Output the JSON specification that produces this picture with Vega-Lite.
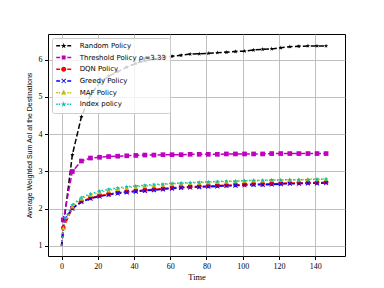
{
  "$schema": "https://vega.github.io/schema/vega-lite/v6.json",
  "width": 297,
  "height": 222,
  "autosize": "none",
  "padding": {"left": 48, "top": 34, "right": 39, "bottom": 32},
  "background": "white",
  "config": {
    "view": {"stroke": "black", "strokeWidth": 1},
    "axis": {"grid": true, "gridColor": "#b0b0b0", "gridWidth": 0.8, "domain": false, "tickColor": "black", "tickSize": 3.5, "labelFont": "Liberation Serif", "labelFontSize": 8, "labelColor": "black", "titleFont": "Liberation Serif", "titleFontSize": 8.4, "titleFontWeight": "normal", "titleColor": "black", "labelPadding": 2.5},
    "legend": {
      "orient": "top-left", "offset": 4, "padding": 4,
      "fillColor": "rgba(255,255,255,0.8)", "strokeColor": "#cccccc", "cornerRadius": 2,
      "labelFont": "DejaVu Sans", "labelFontSize": 7, "labelColor": "black",
      "rowPadding": 2.7, "clipHeight": 7.7, "symbolSize": 36, "symbolOffset": 4.2, "labelOffset": 12.5, "labelLimit": 200, "symbolStrokeWidth": 0
    }
  },
  "datasets": {
    "d": [
      {"s": "Random Policy", "k": "R", "x": 0, "y": 1, "mk": 0},
      {"s": "Random Policy", "k": "R", "x": 1, "y": 1.5, "mk": 1},
      {"s": "Random Policy", "k": "R", "x": 6, "y": 3.45, "mk": 1},
      {"s": "Random Policy", "k": "R", "x": 11, "y": 4.47, "mk": 1},
      {"s": "Random Policy", "k": "R", "x": 16, "y": 5.05, "mk": 1},
      {"s": "Random Policy", "k": "R", "x": 21, "y": 5.38, "mk": 1},
      {"s": "Random Policy", "k": "R", "x": 26, "y": 5.56, "mk": 1},
      {"s": "Random Policy", "k": "R", "x": 31, "y": 5.68, "mk": 1},
      {"s": "Random Policy", "k": "R", "x": 36, "y": 5.8, "mk": 1},
      {"s": "Random Policy", "k": "R", "x": 41, "y": 5.9, "mk": 1},
      {"s": "Random Policy", "k": "R", "x": 46, "y": 5.97, "mk": 1},
      {"s": "Random Policy", "k": "R", "x": 51, "y": 6.02, "mk": 1},
      {"s": "Random Policy", "k": "R", "x": 56, "y": 6.06, "mk": 1},
      {"s": "Random Policy", "k": "R", "x": 61, "y": 6.09, "mk": 1},
      {"s": "Random Policy", "k": "R", "x": 66, "y": 6.12, "mk": 1},
      {"s": "Random Policy", "k": "R", "x": 71, "y": 6.15, "mk": 1},
      {"s": "Random Policy", "k": "R", "x": 76, "y": 6.16, "mk": 1},
      {"s": "Random Policy", "k": "R", "x": 81, "y": 6.17, "mk": 1},
      {"s": "Random Policy", "k": "R", "x": 86, "y": 6.19, "mk": 1},
      {"s": "Random Policy", "k": "R", "x": 91, "y": 6.2, "mk": 1},
      {"s": "Random Policy", "k": "R", "x": 96, "y": 6.22, "mk": 1},
      {"s": "Random Policy", "k": "R", "x": 101, "y": 6.23, "mk": 1},
      {"s": "Random Policy", "k": "R", "x": 106, "y": 6.26, "mk": 1},
      {"s": "Random Policy", "k": "R", "x": 111, "y": 6.28, "mk": 1},
      {"s": "Random Policy", "k": "R", "x": 116, "y": 6.29, "mk": 1},
      {"s": "Random Policy", "k": "R", "x": 121, "y": 6.32, "mk": 1},
      {"s": "Random Policy", "k": "R", "x": 126, "y": 6.35, "mk": 1},
      {"s": "Random Policy", "k": "R", "x": 131, "y": 6.36, "mk": 1},
      {"s": "Random Policy", "k": "R", "x": 136, "y": 6.37, "mk": 1},
      {"s": "Random Policy", "k": "R", "x": 141, "y": 6.37, "mk": 1},
      {"s": "Random Policy", "k": "R", "x": 146, "y": 6.37, "mk": 1},

      {"s": "Threshold Policy ρᵢ=3.33", "k": "T", "x": 0, "y": 1, "mk": 0},
      {"s": "Threshold Policy ρᵢ=3.33", "k": "T", "x": 1, "y": 1.7, "mk": 1},
      {"s": "Threshold Policy ρᵢ=3.33", "k": "T", "x": 6, "y": 3.0, "mk": 1},
      {"s": "Threshold Policy ρᵢ=3.33", "k": "T", "x": 11, "y": 3.28, "mk": 1},
      {"s": "Threshold Policy ρᵢ=3.33", "k": "T", "x": 16, "y": 3.36, "mk": 1},
      {"s": "Threshold Policy ρᵢ=3.33", "k": "T", "x": 21, "y": 3.38, "mk": 1},
      {"s": "Threshold Policy ρᵢ=3.33", "k": "T", "x": 26, "y": 3.4, "mk": 1},
      {"s": "Threshold Policy ρᵢ=3.33", "k": "T", "x": 31, "y": 3.41, "mk": 1},
      {"s": "Threshold Policy ρᵢ=3.33", "k": "T", "x": 36, "y": 3.42, "mk": 1},
      {"s": "Threshold Policy ρᵢ=3.33", "k": "T", "x": 41, "y": 3.43, "mk": 1},
      {"s": "Threshold Policy ρᵢ=3.33", "k": "T", "x": 46, "y": 3.44, "mk": 1},
      {"s": "Threshold Policy ρᵢ=3.33", "k": "T", "x": 51, "y": 3.44, "mk": 1},
      {"s": "Threshold Policy ρᵢ=3.33", "k": "T", "x": 56, "y": 3.45, "mk": 1},
      {"s": "Threshold Policy ρᵢ=3.33", "k": "T", "x": 61, "y": 3.45, "mk": 1},
      {"s": "Threshold Policy ρᵢ=3.33", "k": "T", "x": 66, "y": 3.45, "mk": 1},
      {"s": "Threshold Policy ρᵢ=3.33", "k": "T", "x": 71, "y": 3.46, "mk": 1},
      {"s": "Threshold Policy ρᵢ=3.33", "k": "T", "x": 76, "y": 3.46, "mk": 1},
      {"s": "Threshold Policy ρᵢ=3.33", "k": "T", "x": 81, "y": 3.46, "mk": 1},
      {"s": "Threshold Policy ρᵢ=3.33", "k": "T", "x": 86, "y": 3.46, "mk": 1},
      {"s": "Threshold Policy ρᵢ=3.33", "k": "T", "x": 91, "y": 3.47, "mk": 1},
      {"s": "Threshold Policy ρᵢ=3.33", "k": "T", "x": 96, "y": 3.47, "mk": 1},
      {"s": "Threshold Policy ρᵢ=3.33", "k": "T", "x": 101, "y": 3.47, "mk": 1},
      {"s": "Threshold Policy ρᵢ=3.33", "k": "T", "x": 106, "y": 3.47, "mk": 1},
      {"s": "Threshold Policy ρᵢ=3.33", "k": "T", "x": 111, "y": 3.47, "mk": 1},
      {"s": "Threshold Policy ρᵢ=3.33", "k": "T", "x": 116, "y": 3.48, "mk": 1},
      {"s": "Threshold Policy ρᵢ=3.33", "k": "T", "x": 121, "y": 3.48, "mk": 1},
      {"s": "Threshold Policy ρᵢ=3.33", "k": "T", "x": 126, "y": 3.48, "mk": 1},
      {"s": "Threshold Policy ρᵢ=3.33", "k": "T", "x": 131, "y": 3.48, "mk": 1},
      {"s": "Threshold Policy ρᵢ=3.33", "k": "T", "x": 136, "y": 3.48, "mk": 1},
      {"s": "Threshold Policy ρᵢ=3.33", "k": "T", "x": 141, "y": 3.48, "mk": 1},
      {"s": "Threshold Policy ρᵢ=3.33", "k": "T", "x": 146, "y": 3.48, "mk": 1},

      {"s": "DQN Policy", "k": "D", "x": 0, "y": 1, "mk": 0},
      {"s": "DQN Policy", "k": "D", "x": 1, "y": 1.48, "mk": 1},
      {"s": "DQN Policy", "k": "D", "x": 6, "y": 2.02, "mk": 1},
      {"s": "DQN Policy", "k": "D", "x": 11, "y": 2.2, "mk": 1},
      {"s": "DQN Policy", "k": "D", "x": 16, "y": 2.29, "mk": 1},
      {"s": "DQN Policy", "k": "D", "x": 21, "y": 2.35, "mk": 1},
      {"s": "DQN Policy", "k": "D", "x": 26, "y": 2.39, "mk": 1},
      {"s": "DQN Policy", "k": "D", "x": 31, "y": 2.43, "mk": 1},
      {"s": "DQN Policy", "k": "D", "x": 36, "y": 2.46, "mk": 1},
      {"s": "DQN Policy", "k": "D", "x": 41, "y": 2.48, "mk": 1},
      {"s": "DQN Policy", "k": "D", "x": 46, "y": 2.5, "mk": 1},
      {"s": "DQN Policy", "k": "D", "x": 51, "y": 2.52, "mk": 1},
      {"s": "DQN Policy", "k": "D", "x": 56, "y": 2.54, "mk": 1},
      {"s": "DQN Policy", "k": "D", "x": 61, "y": 2.56, "mk": 1},
      {"s": "DQN Policy", "k": "D", "x": 66, "y": 2.58, "mk": 1},
      {"s": "DQN Policy", "k": "D", "x": 71, "y": 2.59, "mk": 1},
      {"s": "DQN Policy", "k": "D", "x": 76, "y": 2.6, "mk": 1},
      {"s": "DQN Policy", "k": "D", "x": 81, "y": 2.61, "mk": 1},
      {"s": "DQN Policy", "k": "D", "x": 86, "y": 2.62, "mk": 1},
      {"s": "DQN Policy", "k": "D", "x": 91, "y": 2.63, "mk": 1},
      {"s": "DQN Policy", "k": "D", "x": 96, "y": 2.64, "mk": 1},
      {"s": "DQN Policy", "k": "D", "x": 101, "y": 2.65, "mk": 1},
      {"s": "DQN Policy", "k": "D", "x": 106, "y": 2.66, "mk": 1},
      {"s": "DQN Policy", "k": "D", "x": 111, "y": 2.66, "mk": 1},
      {"s": "DQN Policy", "k": "D", "x": 116, "y": 2.67, "mk": 1},
      {"s": "DQN Policy", "k": "D", "x": 121, "y": 2.68, "mk": 1},
      {"s": "DQN Policy", "k": "D", "x": 126, "y": 2.69, "mk": 1},
      {"s": "DQN Policy", "k": "D", "x": 131, "y": 2.69, "mk": 1},
      {"s": "DQN Policy", "k": "D", "x": 136, "y": 2.7, "mk": 1},
      {"s": "DQN Policy", "k": "D", "x": 141, "y": 2.7, "mk": 1},
      {"s": "DQN Policy", "k": "D", "x": 146, "y": 2.71, "mk": 1},

      {"s": "Greedy Policy", "k": "G", "x": 0, "y": 1, "mk": 0},
      {"s": "Greedy Policy", "k": "G", "x": 2, "y": 1.75, "mk": 1},
      {"s": "Greedy Policy", "k": "G", "x": 6, "y": 2.0, "mk": 1},
      {"s": "Greedy Policy", "k": "G", "x": 11, "y": 2.18, "mk": 1},
      {"s": "Greedy Policy", "k": "G", "x": 16, "y": 2.27, "mk": 1},
      {"s": "Greedy Policy", "k": "G", "x": 21, "y": 2.33, "mk": 1},
      {"s": "Greedy Policy", "k": "G", "x": 26, "y": 2.37, "mk": 1},
      {"s": "Greedy Policy", "k": "G", "x": 31, "y": 2.41, "mk": 1},
      {"s": "Greedy Policy", "k": "G", "x": 36, "y": 2.44, "mk": 1},
      {"s": "Greedy Policy", "k": "G", "x": 41, "y": 2.46, "mk": 1},
      {"s": "Greedy Policy", "k": "G", "x": 46, "y": 2.48, "mk": 1},
      {"s": "Greedy Policy", "k": "G", "x": 51, "y": 2.5, "mk": 1},
      {"s": "Greedy Policy", "k": "G", "x": 56, "y": 2.52, "mk": 1},
      {"s": "Greedy Policy", "k": "G", "x": 61, "y": 2.54, "mk": 1},
      {"s": "Greedy Policy", "k": "G", "x": 66, "y": 2.56, "mk": 1},
      {"s": "Greedy Policy", "k": "G", "x": 71, "y": 2.57, "mk": 1},
      {"s": "Greedy Policy", "k": "G", "x": 76, "y": 2.58, "mk": 1},
      {"s": "Greedy Policy", "k": "G", "x": 81, "y": 2.59, "mk": 1},
      {"s": "Greedy Policy", "k": "G", "x": 86, "y": 2.6, "mk": 1},
      {"s": "Greedy Policy", "k": "G", "x": 91, "y": 2.61, "mk": 1},
      {"s": "Greedy Policy", "k": "G", "x": 96, "y": 2.62, "mk": 1},
      {"s": "Greedy Policy", "k": "G", "x": 101, "y": 2.63, "mk": 1},
      {"s": "Greedy Policy", "k": "G", "x": 106, "y": 2.64, "mk": 1},
      {"s": "Greedy Policy", "k": "G", "x": 111, "y": 2.64, "mk": 1},
      {"s": "Greedy Policy", "k": "G", "x": 116, "y": 2.65, "mk": 1},
      {"s": "Greedy Policy", "k": "G", "x": 121, "y": 2.66, "mk": 1},
      {"s": "Greedy Policy", "k": "G", "x": 126, "y": 2.67, "mk": 1},
      {"s": "Greedy Policy", "k": "G", "x": 131, "y": 2.67, "mk": 1},
      {"s": "Greedy Policy", "k": "G", "x": 136, "y": 2.68, "mk": 1},
      {"s": "Greedy Policy", "k": "G", "x": 141, "y": 2.68, "mk": 1},
      {"s": "Greedy Policy", "k": "G", "x": 146, "y": 2.69, "mk": 1},

      {"s": "MAF Policy", "k": "M", "x": 0, "y": 1, "mk": 0},
      {"s": "MAF Policy", "k": "M", "x": 1, "y": 1.48, "mk": 1},
      {"s": "MAF Policy", "k": "M", "x": 6, "y": 2.06, "mk": 1},
      {"s": "MAF Policy", "k": "M", "x": 11, "y": 2.27, "mk": 1},
      {"s": "MAF Policy", "k": "M", "x": 16, "y": 2.37, "mk": 1},
      {"s": "MAF Policy", "k": "M", "x": 21, "y": 2.44, "mk": 1},
      {"s": "MAF Policy", "k": "M", "x": 26, "y": 2.49, "mk": 1},
      {"s": "MAF Policy", "k": "M", "x": 31, "y": 2.53, "mk": 1},
      {"s": "MAF Policy", "k": "M", "x": 36, "y": 2.56, "mk": 1},
      {"s": "MAF Policy", "k": "M", "x": 41, "y": 2.59, "mk": 1},
      {"s": "MAF Policy", "k": "M", "x": 46, "y": 2.61, "mk": 1},
      {"s": "MAF Policy", "k": "M", "x": 51, "y": 2.63, "mk": 1},
      {"s": "MAF Policy", "k": "M", "x": 56, "y": 2.65, "mk": 1},
      {"s": "MAF Policy", "k": "M", "x": 61, "y": 2.67, "mk": 1},
      {"s": "MAF Policy", "k": "M", "x": 66, "y": 2.68, "mk": 1},
      {"s": "MAF Policy", "k": "M", "x": 71, "y": 2.69, "mk": 1},
      {"s": "MAF Policy", "k": "M", "x": 76, "y": 2.7, "mk": 1},
      {"s": "MAF Policy", "k": "M", "x": 81, "y": 2.71, "mk": 1},
      {"s": "MAF Policy", "k": "M", "x": 86, "y": 2.72, "mk": 1},
      {"s": "MAF Policy", "k": "M", "x": 91, "y": 2.73, "mk": 1},
      {"s": "MAF Policy", "k": "M", "x": 96, "y": 2.74, "mk": 1},
      {"s": "MAF Policy", "k": "M", "x": 101, "y": 2.75, "mk": 1},
      {"s": "MAF Policy", "k": "M", "x": 106, "y": 2.76, "mk": 1},
      {"s": "MAF Policy", "k": "M", "x": 111, "y": 2.76, "mk": 1},
      {"s": "MAF Policy", "k": "M", "x": 116, "y": 2.77, "mk": 1},
      {"s": "MAF Policy", "k": "M", "x": 121, "y": 2.77, "mk": 1},
      {"s": "MAF Policy", "k": "M", "x": 126, "y": 2.78, "mk": 1},
      {"s": "MAF Policy", "k": "M", "x": 131, "y": 2.78, "mk": 1},
      {"s": "MAF Policy", "k": "M", "x": 136, "y": 2.79, "mk": 1},
      {"s": "MAF Policy", "k": "M", "x": 141, "y": 2.79, "mk": 1},
      {"s": "MAF Policy", "k": "M", "x": 146, "y": 2.8, "mk": 1},

      {"s": "Index policy", "k": "I", "x": 0, "y": 1, "mk": 0},
      {"s": "Index policy", "k": "I", "x": 2, "y": 1.75, "mk": 1},
      {"s": "Index policy", "k": "I", "x": 6, "y": 2.1, "mk": 1},
      {"s": "Index policy", "k": "I", "x": 11, "y": 2.3, "mk": 1},
      {"s": "Index policy", "k": "I", "x": 16, "y": 2.4, "mk": 1},
      {"s": "Index policy", "k": "I", "x": 21, "y": 2.47, "mk": 1},
      {"s": "Index policy", "k": "I", "x": 26, "y": 2.52, "mk": 1},
      {"s": "Index policy", "k": "I", "x": 31, "y": 2.56, "mk": 1},
      {"s": "Index policy", "k": "I", "x": 36, "y": 2.59, "mk": 1},
      {"s": "Index policy", "k": "I", "x": 41, "y": 2.61, "mk": 1},
      {"s": "Index policy", "k": "I", "x": 46, "y": 2.63, "mk": 1},
      {"s": "Index policy", "k": "I", "x": 51, "y": 2.65, "mk": 1},
      {"s": "Index policy", "k": "I", "x": 56, "y": 2.66, "mk": 1},
      {"s": "Index policy", "k": "I", "x": 61, "y": 2.68, "mk": 1},
      {"s": "Index policy", "k": "I", "x": 66, "y": 2.69, "mk": 1},
      {"s": "Index policy", "k": "I", "x": 71, "y": 2.7, "mk": 1},
      {"s": "Index policy", "k": "I", "x": 76, "y": 2.71, "mk": 1},
      {"s": "Index policy", "k": "I", "x": 81, "y": 2.72, "mk": 1},
      {"s": "Index policy", "k": "I", "x": 86, "y": 2.73, "mk": 1},
      {"s": "Index policy", "k": "I", "x": 91, "y": 2.74, "mk": 1},
      {"s": "Index policy", "k": "I", "x": 96, "y": 2.74, "mk": 1},
      {"s": "Index policy", "k": "I", "x": 101, "y": 2.75, "mk": 1},
      {"s": "Index policy", "k": "I", "x": 106, "y": 2.76, "mk": 1},
      {"s": "Index policy", "k": "I", "x": 111, "y": 2.76, "mk": 1},
      {"s": "Index policy", "k": "I", "x": 116, "y": 2.77, "mk": 1},
      {"s": "Index policy", "k": "I", "x": 121, "y": 2.77, "mk": 1},
      {"s": "Index policy", "k": "I", "x": 126, "y": 2.78, "mk": 1},
      {"s": "Index policy", "k": "I", "x": 131, "y": 2.78, "mk": 1},
      {"s": "Index policy", "k": "I", "x": 136, "y": 2.78, "mk": 1},
      {"s": "Index policy", "k": "I", "x": 141, "y": 2.79, "mk": 1},
      {"s": "Index policy", "k": "I", "x": 146, "y": 2.79, "mk": 1}
    ]
  },
  "data": {"name": "d"},
  "encoding": {
    "x": {"field": "x", "type": "quantitative", "title": "Time",
      "scale": {"domain": [-7.45, 156.45], "nice": false, "zero": false},
      "axis": {"values": [0, 20, 40, 60, 80, 100, 120, 140], "titlePadding": 2}},
    "y": {"field": "y", "type": "quantitative", "title": "Average Weighted Sum AoI at the Destinations",
      "scale": {"domain": [0.73, 6.69], "nice": false, "zero": false},
      "axis": {"values": [1, 2, 3, 4, 5, 6], "titlePadding": 6, "titleFont": "Liberation Sans", "titleFontSize": 7}},
    "color": {"field": "s", "type": "nominal", "title": null,
      "scale": {"domain": ["Random Policy", "Threshold Policy ρᵢ=3.33", "DQN Policy", "Greedy Policy", "MAF Policy", "Index policy"],
        "range": ["#000000", "#bf00bf", "#ff0000", "#0000ff", "#bfbf00", "#00bfbf"]},
      "legend": {
        "encode": {
          "symbols": {
            "update": {
              "shape": {"signal": "datum.value === 'Random Policy' ? 'M-2.5,-0.25H-1.2V0.25H-2.5Z M1.2,-0.25H2.5V0.25H1.2Z M0,-1L0.2245,-0.309L0.951,-0.309L0.363,0.118L0.588,0.809L0,0.382L-0.588,0.809L-0.363,0.118L-0.951,-0.309L-0.2245,-0.309Z' : datum.value === 'DQN Policy' ? 'M-2.5,-0.25H-1.2V0.25H-2.5Z M1.2,-0.25H2.5V0.25H1.2Z M0.85,0A0.85,0.85,0,1,1,-0.85,0A0.85,0.85,0,1,1,0.85,0Z' : datum.value === 'Greedy Policy' ? 'M-2.5,-0.25H-1.2V0.25H-2.5Z M1.2,-0.25H2.5V0.25H1.2Z M-0.8,-0.6L-0.6,-0.8L0,-0.2L0.6,-0.8L0.8,-0.6L0.2,0L0.8,0.6L0.6,0.8L0,0.2L-0.6,0.8L-0.8,0.6L-0.2,0Z' : datum.value === 'MAF Policy' ? 'M-2.5,-0.25H-2.0V0.25H-2.5Z M-1.65,-0.25H-1.2V0.25H-1.65Z M1.2,-0.25H1.65V0.25H1.2Z M2.0,-0.25H2.5V0.25H2.0Z M0,-0.95L0.9,0.65L-0.9,0.65Z' : datum.value === 'Index policy' ? 'M-2.5,-0.25H-2.0V0.25H-2.5Z M-1.65,-0.25H-1.2V0.25H-1.65Z M1.2,-0.25H1.65V0.25H1.2Z M2.0,-0.25H2.5V0.25H2.0Z M0,-1L0.2245,-0.309L0.951,-0.309L0.363,0.118L0.588,0.809L0,0.382L-0.588,0.809L-0.363,0.118L-0.951,-0.309L-0.2245,-0.309Z' : 'M-2.5,-0.25H-1.2V0.25H-2.5Z M1.2,-0.25H2.5V0.25H1.2Z M-0.65,-0.65H0.65V0.65H-0.65Z'"},
              "size": {"value": 36},
              "fill": {"scale": "color", "field": "value"},
              "fillOpacity": {"value": 1},
              "strokeWidth": {"value": 0},
              "opacity": {"value": 1}
            }
          }
        }
      }
    }
  },
  "layer": [
    {
      "mark": {"type": "line", "strokeWidth": 1.5, "clip": true},
      "encoding": {
        "strokeDash": {"field": "k", "type": "nominal", "legend": null,
          "scale": {"domain": ["R", "T", "D", "G", "M", "I"],
            "range": [[5.5, 2.4], [5.5, 2.4], [5.5, 2.4], [5.5, 2.4], [1.5, 2.5], [1.5, 2.5]]}}
      }
    },
    {
      "transform": [{"filter": "datum.mk == 1"}],
      "mark": {"type": "point", "filled": true, "opacity": 1, "size": 22},
      "encoding": {
        "shape": {"field": "k", "type": "nominal", "legend": null,
          "scale": {"domain": ["R", "T", "D", "G", "M", "I"],
            "range": [
              "M0,-1L0.2245,-0.309L0.951,-0.309L0.363,0.118L0.588,0.809L0,0.382L-0.588,0.809L-0.363,0.118L-0.951,-0.309L-0.2245,-0.309Z",
              "square",
              "circle",
              "M-1,-0.75L-0.75,-1L0,-0.25L0.75,-1L1,-0.75L0.25,0L1,0.75L0.75,1L0,0.25L-0.75,1L-1,0.75L-0.25,0Z",
              "triangle-up",
              "M0,-1L0.2245,-0.309L0.951,-0.309L0.363,0.118L0.588,0.809L0,0.382L-0.588,0.809L-0.363,0.118L-0.951,-0.309L-0.2245,-0.309Z"
            ]}
        }
      }
    }
  ]
}
